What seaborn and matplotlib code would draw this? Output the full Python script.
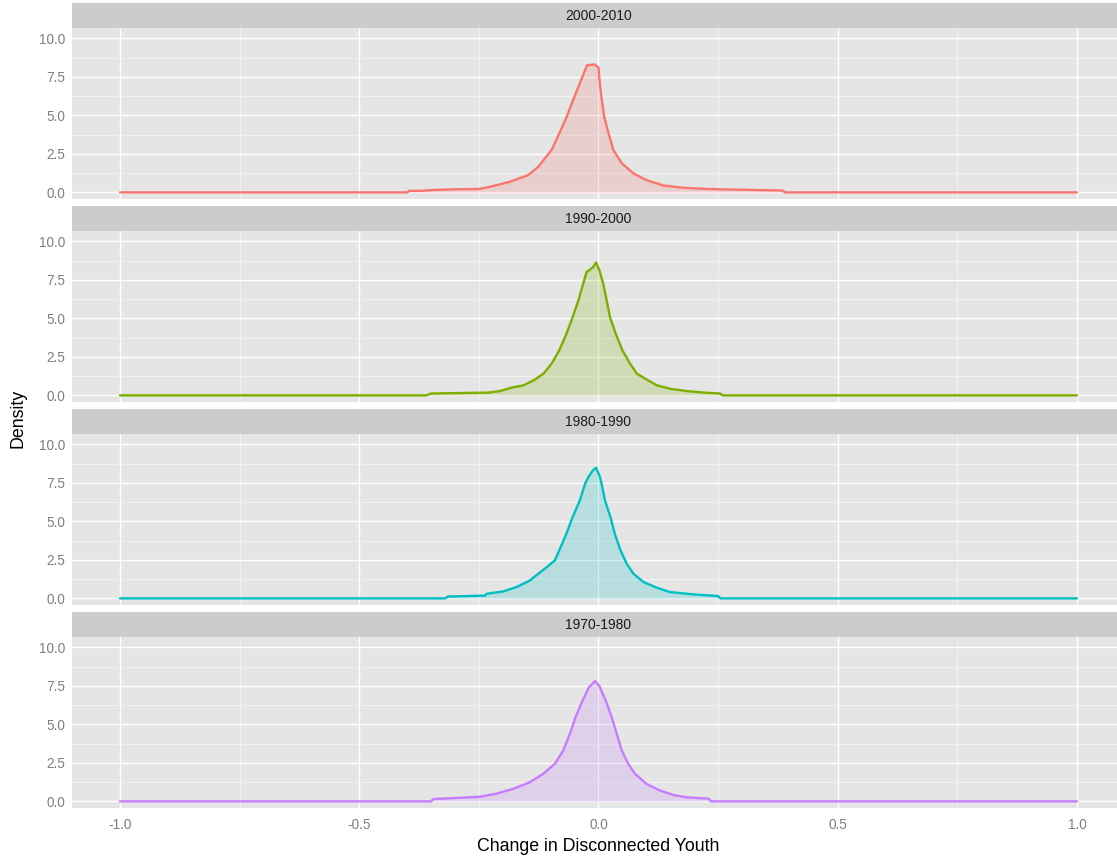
import matplotlib
matplotlib.use("Agg")
import matplotlib.pyplot as plt
import pandas as pd
import seaborn as sns
from matplotlib.patches import Rectangle

# ---------- data ----------
PERIODS = ["2000-2010", "1990-2000", "1980-1990", "1970-1980"]
COLORS = ["#F8766D", "#7CAE00", "#00BFC4", "#C77CFF"]

x_2000 = [-1.0, -0.40, -0.395, -0.37, -0.35, -0.30, -0.25, -0.227, -0.185, -0.147,
          -0.126, -0.098, -0.082, -0.0665, -0.053, -0.039, -0.028, -0.024, -0.008,
          0.0, 0.003, 0.007, 0.012, 0.021, 0.031, 0.0485, 0.073, 0.1, 0.135, 0.177,
          0.205, 0.25, 0.385, 0.39, 1.0]
y_2000 = [0, 0, 0.1, 0.1, 0.15, 0.2, 0.22, 0.36, 0.69, 1.12,
          1.66, 2.75, 3.83, 4.9, 6.0, 7.08, 7.94, 8.25, 8.3,
          8.1, 7.0, 6.0, 4.9, 3.83, 2.75, 1.9, 1.23, 0.8, 0.45, 0.3,
          0.25, 0.2, 0.12, 0, 0]

x_1990 = [-1.0, -0.36, -0.35, -0.23, -0.206, -0.182, -0.157, -0.136, -0.115, -0.098,
          -0.082, -0.067, -0.054, -0.042, -0.032, -0.025, -0.012, -0.005, 0.002, 0.01,
          0.017, 0.024, 0.036, 0.05, 0.066, 0.08, 0.104, 0.122, 0.149, 0.184,
          0.22, 0.254, 0.26, 1.0]
y_1990 = [0, 0, 0.12, 0.18, 0.28, 0.5, 0.65, 0.97, 1.41, 2.06,
          2.92, 4.0, 5.08, 6.17, 7.25, 8.0, 8.3, 8.62, 8.1, 7.25,
          6.17, 5.08, 4.0, 2.92, 2.06, 1.41, 0.97, 0.65, 0.43, 0.28,
          0.18, 0.12, 0, 0]

x_1980 = [-1.0, -0.32, -0.315, -0.237, -0.234, -0.199, -0.171, -0.143, -0.126, -0.108,
          -0.091, -0.082, -0.067, -0.054, -0.039, -0.028, -0.021, -0.012, -0.005, 0.003,
          0.0065, 0.0135, 0.025, 0.034, 0.046, 0.059, 0.073, 0.094, 0.122, 0.149,
          0.198, 0.25, 0.255, 1.0]
y_1980 = [0, 0, 0.12, 0.18, 0.3, 0.45, 0.74, 1.17, 1.6, 2.03,
          2.47, 3.12, 4.2, 5.28, 6.36, 7.45, 7.88, 8.3, 8.48, 7.88,
          7.45, 6.36, 5.28, 4.2, 3.12, 2.25, 1.6, 1.06, 0.69, 0.41,
          0.26, 0.15, 0, 0]

x_1970 = [-1.0, -0.35, -0.345, -0.248, -0.213, -0.178, -0.143, -0.115, -0.091, -0.0735,
          -0.0596, -0.048, -0.033, -0.02, -0.0073, 0.0017, 0.015, 0.0275, 0.038, 0.0485,
          0.062, 0.076, 0.1, 0.128, 0.156, 0.184, 0.23, 0.235, 1.0]
y_1970 = [0, 0, 0.15, 0.3, 0.5, 0.82, 1.25, 1.8, 2.45, 3.31,
          4.4, 5.47, 6.56, 7.4, 7.81, 7.5, 6.56, 5.47, 4.4, 3.31,
          2.45, 1.8, 1.14, 0.71, 0.42, 0.26, 0.18, 0, 0]

X_TICKS = [-1.0, -0.5, 0.0, 0.5, 1.0]
Y_TICKS = [0.0, 2.5, 5.0, 7.5, 10.0]

frames = []
for period, xs, ys in zip(PERIODS, [x_2000, x_1990, x_1980, x_1970],
                          [y_2000, y_1990, y_1980, y_1970]):
    frames.append(pd.DataFrame({"period": period, "x": xs, "density": ys}))
df = pd.concat(frames, ignore_index=True)

# ---------- style (ggplot grey look) ----------
sns.set_theme(style="darkgrid", rc={
    "axes.facecolor": "#E5E5E5",
    "grid.color": "white",
    "axes.edgecolor": "none",
    "axes.unicode_minus": False,
    "xtick.color": "#7F7F7F",
    "ytick.color": "#7F7F7F",
})
plt.rcParams["font.family"] = ["Liberation Sans", "DejaVu Sans"]

W, H = 1117, 863
fig = plt.figure(figsize=(W / 100, H / 100), dpi=100)

left_px, right_px = 72.15, 1124.85
panel_h, strip_h, pitch, first_top = 170.7, 25.0, 203.0, 28.3

for i, (period, color) in enumerate(zip(PERIODS, COLORS)):
    top = first_top + pitch * i
    ax = fig.add_axes([left_px / W, 1 - (top + panel_h) / H,
                       (right_px - left_px) / W, panel_h / H])
    sub = df[df["period"] == period]
    ax.fill_between(sub["x"], sub["density"], color=color, alpha=0.2, lw=0, zorder=2)
    sns.lineplot(data=sub, x="x", y="density", color=color, linewidth=1.7, ax=ax,
                 zorder=3)

    ax.set_xlim(-1.1, 1.1)
    ax.set_ylim(-0.43, 10.65)
    ax.set_xticks(X_TICKS)
    ax.set_yticks(Y_TICKS)
    ax.set_xticks([-0.75, -0.25, 0.25, 0.75], minor=True)
    ax.set_yticks([1.25, 3.75, 6.25, 8.75], minor=True)
    ax.grid(which="major", color="white", lw=1.0)
    ax.grid(which="minor", color="#F2F2F2", lw=0.7)
    ax.set_axisbelow(True)
    ax.tick_params(axis="y", which="major", length=3, width=0.8, color="#7F7F7F",
                   labelsize=9.8, pad=2, labelcolor="#7F7F7F")
    ax.tick_params(which="minor", length=0)
    ax.set_ylabel("")
    ax.set_xlabel("")
    if i < 3:
        ax.tick_params(axis="x", which="major", length=0, labelbottom=False)
    else:
        ax.tick_params(axis="x", which="major", length=3, width=0.8, color="#7F7F7F",
                       labelsize=9.8, pad=4, labelcolor="#7F7F7F")

    # facet strip
    sh = strip_h / panel_h
    ax.add_patch(Rectangle((0, 1), 1, sh, transform=ax.transAxes, color="#CCCCCC",
                           clip_on=False, lw=0))
    ax.text(0.0, 1 + sh / 2, period, transform=ax.get_xaxis_transform(),
            ha="center", va="center", fontsize=10, color="#1A1A1A")

fig.text(598.5 / W, 1 - 846 / H, "Change in Disconnected Youth", ha="center",
         va="center", fontsize=12.8, color="black")
fig.text(18 / W, 1 - 418 / H, "Density", ha="center", va="center", rotation=90,
         fontsize=12.8, color="black")

fig.savefig("out.png", dpi=100, facecolor="white")
